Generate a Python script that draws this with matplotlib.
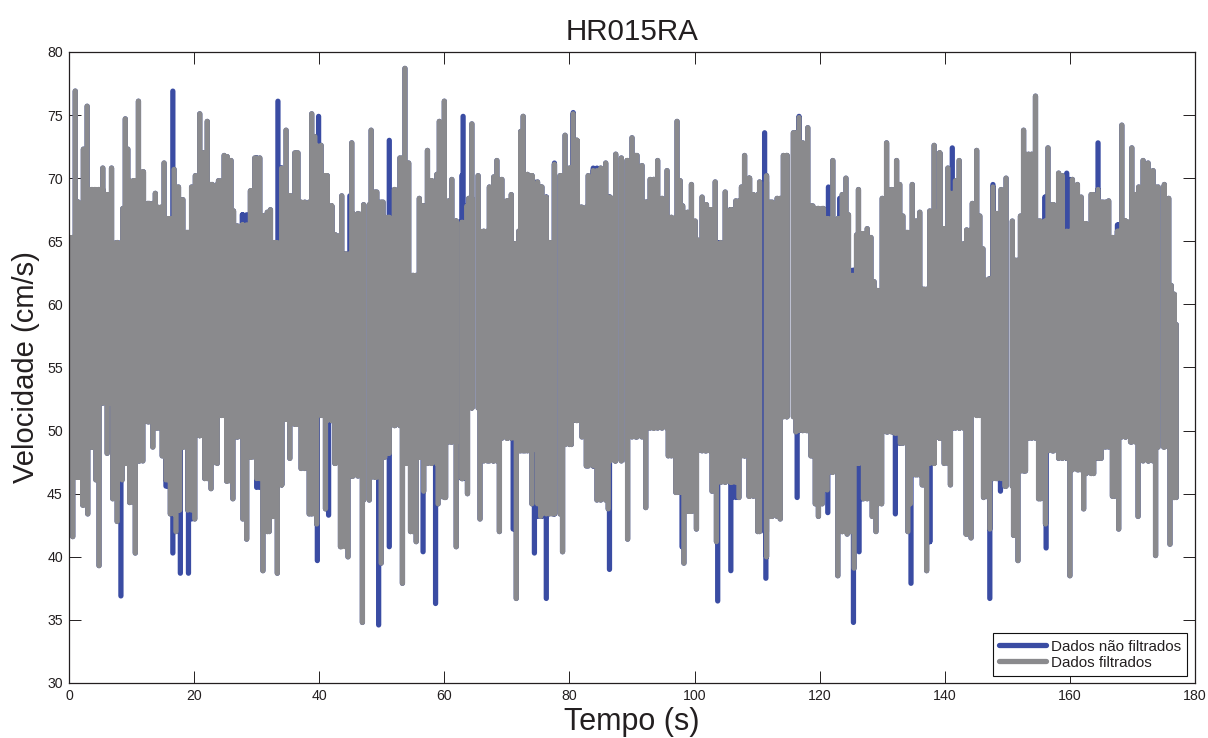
import numpy as np
import matplotlib
matplotlib.use("Agg")
import matplotlib.pyplot as plt

plt.rcParams['font.family'] = ['Liberation Sans', 'DejaVu Sans']

# Upper excursions of the filtered signal
t_up = [0.1,1.0,1.5,1.8,2.3,2.9,3.6,4.1,4.7,5.4,5.9,6.8,7.7,8.6,9.0,9.4,10.3,11.1,11.9,12.8,13.8,14.7,15.2,15.8,16.8,17.5,18.2,18.8,19.6,20.2,20.9,21.4,22.1,22.9,23.9,24.8,25.3,25.9,26.3,27.0,27.7,29.0,29.7,30.5,31.1,31.7,32.2,32.9,34.0,34.7,35.4,36.1,36.6,37.7,38.8,39.3,40.3,41.3,42.0,42.6,43.6,44.2,45.2,46.2,47.1,48.3,49.2,50.2,51.0,52.0,52.9,53.7,54.3,55.0,56.0,56.5,57.3,57.9,58.8,59.2,
        60.0,60.7,61.2,61.9,62.9,63.6,63.9,64.4,65.4,66.3,67.2,67.9,68.4,69.2,70.0,70.7,71.3,71.9,72.2,72.6,73.3,74.0,74.9,75.6,76.3,76.8,77.6,78.5,79.3,80.0,80.6,81.2,81.8,83.0,83.8,85.0,85.8,86.5,87.4,88.3,89.2,90.0,90.8,91.6,92.4,92.9,93.5,94.1,94.8,95.6,96.3,97.2,97.7,98.1,98.9,99.5,100.1,100.5,101.2,101.9,102.5,103.3,104.2,104.9,106.0,106.6,107.5,108.0,108.8,109.4,110.4,111.5,112.4,113.2,114.2,114.8,115.8,116.7,117.3,118.1,
        118.9,119.7,120.6,121.4,122.1,123.2,123.6,124.2,124.6,125.2,125.9,126.2,126.8,127.6,128.2,128.7,129.3,130.0,130.7,131.5,132.3,132.8,133.3,133.9,134.8,135.3,136.0,136.7,137.6,138.3,139.2,139.8,140.5,141.2,141.7,142.3,143.0,143.5,144.4,145.1,145.6,146.1,147.0,147.7,148.4,149.0,149.8,150.8,151.3,152.1,152.6,153.4,154.5,155.3,156.0,156.5,157.4,158.2,158.8,159.5,160.4,161.2,161.8,162.6,163.4,164.5,165.3,166.2,167.1,167.6,168.3,168.9,169.9,170.5,171.0,171.7,172.5,173.3,174.1,175.1,175.8,176.2,176.7,177.0]
v_up = [65.5,77.1,68.3,67.5,72.5,75.9,69.3,69.3,69.3,71.0,68.9,71.0,65.1,67.8,74.9,72.5,70.0,76.3,70.7,68.2,69.0,67.9,71.4,67.0,70.9,69.5,68.5,65.9,69.5,70.4,75.3,72.2,74.7,69.7,70.0,72.0,71.9,71.6,67.6,66.4,66.5,69.2,71.8,71.8,67.2,67.5,67.7,65.1,71.0,74.0,68.8,72.2,72.2,68.3,75.3,73.5,72.8,70.4,68.0,65.7,68.8,64.2,73.0,67.4,68.1,74.0,69.1,68.3,67.1,69.3,71.8,78.9,71.4,62.5,68.6,68.0,72.4,70.0,70.5,74.7,
        76.3,68.4,70.1,66.8,66.7,68.0,68.6,74.5,70.4,66.0,69.5,70.3,71.6,70.1,68.4,68.9,65.0,66.0,73.9,75.1,70.5,70.4,69.9,69.5,68.7,65.1,71.3,70.4,73.6,71.0,75.3,73.2,67.9,70.4,70.8,71.0,71.4,68.7,72.1,71.8,71.6,73.4,72.0,71.2,68.3,70.1,70.1,71.6,68.6,70.8,67.1,74.7,70.0,68.0,67.5,69.7,66.8,65.3,68.7,68.1,67.7,69.9,65.1,69.1,67.7,68.4,69.5,72.0,70.2,68.9,69.9,70.4,68.3,68.6,72.0,72.0,73.8,75.0,73.0,74.2,
        68.0,67.8,67.8,67.0,71.6,67.0,68.9,70.2,67.3,62.5,65.7,69.3,65.8,66.2,65.5,62.0,61.3,68.6,73.0,69.3,71.6,69.7,67.2,65.9,69.7,66.8,67.5,61.4,67.6,72.8,72.2,66.2,71.0,69.0,70.0,71.6,65.0,66.1,68.2,72.4,67.2,64.6,62.2,69.5,67.4,69.3,70.2,66.8,63.7,67.2,74.0,72.1,76.7,66.8,66.8,72.6,68.1,70.6,70.4,66.0,70.1,69.7,68.7,66.6,68.9,69.3,68.3,68.4,65.5,66.0,74.4,66.8,72.6,68.9,69.5,71.6,71.4,70.8,69.5,69.7,68.6,61.7,61.0,58.6]

# Lower excursions of the filtered signal
t_dn = [0.1,0.6,1.4,2.2,3.0,3.7,4.3,4.8,5.4,6.1,6.6,7.0,7.7,8.5,9.1,9.7,10.6,11.3,11.8,12.6,13.4,14.2,14.9,15.5,16.2,17.1,17.7,18.3,19.0,20.1,20.9,21.7,22.7,23.7,24.4,25.2,26.2,26.8,27.8,28.4,29.2,30.0,31.0,32.0,32.6,33.3,34.0,34.8,35.3,36.4,37.1,38.4,39.6,40.6,41.0,42.0,42.5,43.4,44.6,45.4,46.9,48.0,48.9,49.9,50.5,51.2,52.1,53.3,54.0,54.6,55.5,56.1,56.7,58.0,59.0,
        60.2,61.1,61.9,62.8,63.7,64.4,65.7,66.9,67.8,68.8,70.1,71.5,72.9,74.0,75.4,77.3,78.9,80.3,81.2,82.0,82.7,84.4,86.2,87.3,89.3,90.6,92.2,93.5,95.8,97.0,98.3,99.3,100.3,101.7,102.8,103.5,105.7,107.1,108.0,108.7,110.1,111.5,112.1,113.7,114.7,116.2,117.9,118.6,
        119.3,119.8,120.4,121.2,122.0,122.9,123.6,124.4,124.9,125.5,126.1,127.0,128.4,129.0,129.9,130.9,132.0,132.9,134.1,134.5,135.6,136.4,137.1,138.3,139.2,139.9,140.9,142.4,143.4,144.2,145.2,146.2,147.2,148.2,149.6,151.0,151.7,152.9,153.9,155.0,156.1,157.2,158.2,160.0,161.4,162.2,163.8,165.0,165.7,166.8,167.8,168.9,169.7,170.9,172.6,173.7,175.0,176.0,176.6]
v_dn = [46.1,41.4,46.1,43.9,43.2,48.5,45.9,39.1,52.0,48.0,52.0,44.4,42.6,45.9,47.2,44.1,40.1,47.4,47.4,50.5,48.5,50.0,47.8,45.9,43.2,41.8,43.5,48.5,43.5,42.8,49.4,46.0,45.2,47.2,51.0,45.8,44.4,49.3,42.8,41.2,47.7,46.0,38.7,41.8,43.0,38.5,45.5,50.7,47.6,50.3,46.8,43.2,42.4,51.0,43.6,50.6,47.2,40.6,39.8,46.2,34.6,44.3,46.1,39.3,47.7,48.0,50.2,37.7,47.2,41.8,41.0,47.7,45.0,47.2,44.0,
        44.5,48.9,40.6,46.0,44.8,51.6,42.8,47.4,47.4,41.8,49.2,36.5,48.2,44.0,43.0,43.2,40.2,48.7,50.6,49.3,47.0,44.3,43.6,47.4,41.2,49.3,43.7,50.0,47.8,44.9,39.3,43.4,42.0,48.2,45.0,41.0,45.7,44.5,47.8,44.6,41.8,39.8,43.0,42.8,50.9,49.7,49.8,47.8,
        44.0,43.0,44.0,45.1,46.5,38.3,41.8,41.6,41.8,38.9,47.2,44.4,43.0,41.8,44.0,49.7,49.6,48.8,41.8,44.0,46.3,45.5,38.7,47.2,49.2,47.2,45.5,50.0,41.6,41.3,51.0,44.5,42.0,46.0,45.4,41.5,39.5,46.6,49.2,44.4,42.4,48.2,47.6,38.3,46.7,43.6,46.4,47.6,48.5,44.6,42.0,49.3,48.9,43.0,47.4,39.9,48.5,40.8,44.5]

# Excursions present only in the unfiltered signal
t_raw_up = [16.6,33.4,39.9,51.2,27.7,44.9,63.0,62.8,80.6,77.6,83.8,111.2,116.7,121.4,123.2,125.2,141.2,147.7,156.0,159.5,164.5,167.6]
v_raw_up = [77.1,76.3,75.1,73.2,67.3,68.8,75.1,70.4,75.4,71.4,71.0,73.8,75.1,69.5,68.6,62.9,72.6,69.7,68.7,70.6,73.0,66.5]
t_raw_dn = [8.3,16.6,17.8,19.1,39.7,41.5,49.5,51.2,56.6,58.6,30.0,15.5,43.8,74.4,76.3,86.4,103.7,105.8,111.4,116.4,71.0,98.0,121.3,125.4,132.1,134.6,147.2,148.9,156.2,137.6,126.3]
v_raw_dn = [36.7,40.1,38.5,38.5,39.5,43.1,34.4,40.6,40.2,36.1,45.3,45.4,41.2,40.1,36.5,38.8,36.3,38.7,38.1,44.5,42.0,40.6,43.3,34.6,43.2,37.7,36.5,45.0,40.5,41.0,40.2]

cap = 0.2  # half the stroke, in data units: a stroke's rounded end reaches past its vertex


def sticks(tu, vu, td, vd):
    """One stroke per excursion; each runs to the shallower of the opposite
    excursions on either side, so the body stays solid and spikes stay thin."""
    iu, id_ = np.argsort(tu, kind='stable'), np.argsort(td, kind='stable')
    tu, vu = np.asarray(tu, float)[iu], np.asarray(vu, float)[iu] - cap
    td, vd = np.asarray(td, float)[id_], np.asarray(vd, float)[id_] + cap

    def near(ts, tr, vr, pick):
        j = np.clip(np.searchsorted(tr, ts), 1, len(tr) - 1)
        return pick(vr[j - 1], vr[j])

    xs, ys = [], []
    for t, a, b in zip(tu, vu, near(tu, td, vd, np.maximum)):
        xs += [t, t, np.nan]
        ys += [a, b, np.nan]
    for t, a, b in zip(td, near(td, tu, vu, np.minimum), vd):
        xs += [t, t, np.nan]
        ys += [a, b, np.nan]
    return np.array(xs), np.array(ys)


fig = plt.figure(figsize=(12.08, 7.38), dpi=100)
ax = fig.add_axes([69/1208, 1-683/738, (1195-69)/1208, (683-52)/738])

x_f, y_f = sticks(t_up, v_up, t_dn, v_dn)
x_r, y_r = sticks(t_up + t_raw_up, v_up + v_raw_up, t_dn + t_raw_dn, v_dn + v_raw_dn)

style = dict(lw=3.8, solid_joinstyle='round', solid_capstyle='round')
ax.plot(x_r, y_r, color='#3A4CA3', label='Dados não filtrados', **style)
ax.plot(x_f, y_f, color='#8A8A8D', label='Dados filtrados', **style)

ax.set_xlim(0, 180)
ax.set_ylim(30, 80)
ax.set_xticks(range(0, 181, 20))
ax.set_yticks(range(30, 81, 5))
ax.tick_params(direction='in', top=True, right=True, length=8.5, width=0.7,
               labelsize=10.2, colors='#231F20', pad=4.5)
for s in ax.spines.values():
    s.set_linewidth(0.9)
    s.set_color('#231F20')

ax.set_title('HR015RA', fontsize=21.3, color='#231F20', pad=9)
ax.set_xlabel('Tempo (s)', fontsize=22, color='#231F20', labelpad=3)
ax.set_ylabel('Velocidade (cm/s)', fontsize=21, color='#231F20', labelpad=5)

leg = ax.legend(loc='lower right', bbox_to_anchor=(1118/1126, 7/631), fontsize=10.9,
                fancybox=False, framealpha=1, edgecolor='#111111', labelcolor='#231F20',
                borderpad=0.42, labelspacing=0.14, handlelength=3.05, handletextpad=0.33,
                borderaxespad=0)
leg.get_frame().set_linewidth(0.8)

fig.savefig('out.png', dpi=100)
